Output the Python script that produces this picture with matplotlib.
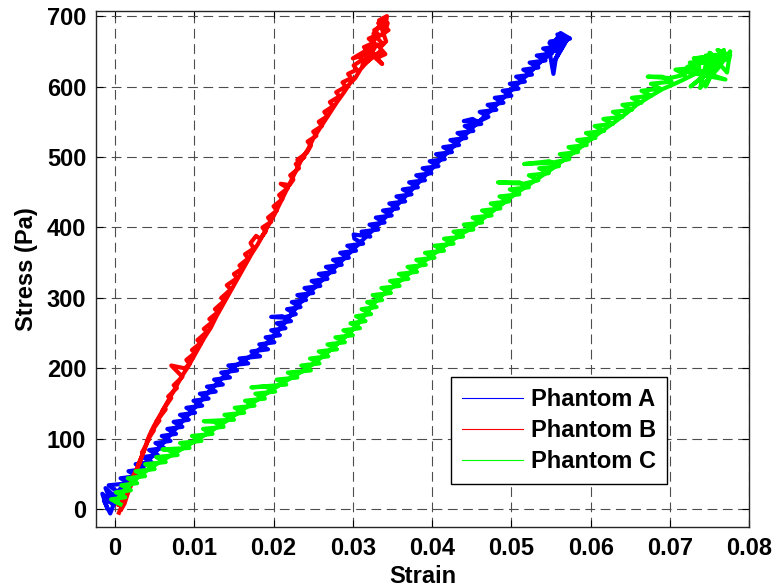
import matplotlib
matplotlib.use("Agg")
import matplotlib.pyplot as plt

plt.rcParams['font.family'] = ['Liberation Sans', 'DejaVu Sans']
plt.rcParams['font.weight'] = 'bold'
plt.rcParams['lines.scale_dashes'] = False

# === Phantom A (blue) ===
strain_a = [-0.0010, -0.0016, -0.0004, -0.0012, 0.0000, -0.0014, -0.0006, 0.0004, -0.0008,
            0.0018, 0.0007, 0.0028, 0.0017, 0.0037, 0.0026, 0.0046, 0.0035, 0.0054, 0.0043,
            0.0062, 0.0051, 0.0070, 0.0059, 0.0077, 0.0066, 0.0085, 0.0074, 0.0093, 0.0082,
            0.0101, 0.0090, 0.0110, 0.0099, 0.0118, 0.0107, 0.0127, 0.0116, 0.0136, 0.0125,
            0.0145, 0.0134, 0.0154, 0.0143, 0.0168, 0.0157, 0.0183, 0.0172, 0.0193, 0.0182,
            0.0201, 0.0190, 0.0208, 0.0197, 0.0215, 0.0204, 0.0222, 0.0211, 0.0197, 0.0212,
            0.0228, 0.0217, 0.0234, 0.0223, 0.0241, 0.0230, 0.0250, 0.0239, 0.0259, 0.0248,
            0.0268, 0.0257, 0.0277, 0.0266, 0.0286, 0.0275, 0.0295, 0.0284, 0.0304, 0.0293,
            0.0313, 0.0302, 0.0301, 0.0315, 0.0322, 0.0311, 0.0332, 0.0321, 0.0340, 0.0329,
            0.0349, 0.0338, 0.0357, 0.0346, 0.0366, 0.0355, 0.0374, 0.0363, 0.0382, 0.0371,
            0.0391, 0.0380, 0.0399, 0.0388, 0.0408, 0.0397, 0.0416, 0.0405, 0.0425, 0.0414,
            0.0434, 0.0423, 0.0443, 0.0432, 0.0452, 0.0441, 0.0462, 0.0451, 0.0440, 0.0458,
            0.0471, 0.0460, 0.0481, 0.0470, 0.0490, 0.0479, 0.0500, 0.0489, 0.0509, 0.0498,
            0.0517, 0.0506, 0.0526, 0.0515, 0.0534, 0.0523, 0.0543, 0.0532, 0.0551, 0.0540,
            0.0560, 0.0549, 0.0570, 0.0558, 0.0574, 0.0562, 0.0548, 0.0553, 0.0556, 0.0566,
            0.0552, 0.0568, 0.0545, 0.0560, 0.0538, 0.0572, 0.0556, 0.0548,
            0.0560, 0.0543, 0.0527, 0.0510, 0.0492, 0.0474, 0.0455, 0.0437, 0.0419, 0.0402,
            0.0385, 0.0368, 0.0351, 0.0334, 0.0316, 0.0298, 0.0280, 0.0262, 0.0244, 0.0230,
            0.0218, 0.0205, 0.0192, 0.0172, 0.0150, 0.0135, 0.0118, 0.0102, 0.0086, 0.0070,
            0.0055, 0.0040, 0.0022, 0.0004, -0.0010]
stress_a = [2, 22, 8, 30, 18, 12, -6, 24, 34,
            37, 44, 47, 54, 57, 64, 67, 74, 77, 84,
            87, 94, 97, 104, 107, 114, 117, 124, 127, 134,
            137, 144, 147, 154, 157, 164, 167, 174, 177, 184,
            187, 194, 197, 204, 207, 214, 217, 224, 227, 234,
            237, 244, 247, 254, 257, 264, 267, 274, 273, 272,
            277, 284, 287, 294, 297, 304, 307, 314, 317, 324,
            327, 334, 337, 344, 347, 354, 357, 364, 367, 374,
            377, 384, 390, 388, 387, 394, 397, 404, 407, 414,
            417, 424, 427, 434, 437, 444, 447, 454, 457, 464,
            467, 474, 477, 484, 487, 494, 497, 504, 507, 514,
            517, 524, 527, 534, 537, 544, 547, 554, 551, 550,
            557, 564, 567, 574, 577, 584, 587, 594, 597, 604,
            607, 614, 617, 624, 627, 634, 637, 644, 647, 654,
            657, 664, 667, 674, 668, 676, 650, 618, 640, 660,
            632, 662, 645, 672, 636, 668, 650, 662,
            662, 642, 624, 606, 586, 566, 546, 526, 506, 486,
            466, 446, 426, 406, 386, 366, 346, 326, 306, 288,
            270, 252, 236, 218, 202, 186, 166, 146, 126, 106,
            86, 66, 46, 26, 10]

# === Phantom B (red) ===
strain_b = [0.0005, 0.0011, 0.0004, 0.0015, 0.0010, 0.0020, 0.0017, 0.0026, 0.0023, 0.0032,
            0.0029, 0.0037, 0.0034, 0.0043, 0.0040, 0.0049, 0.0046, 0.0056, 0.0052, 0.0064,
            0.0060, 0.0071, 0.0067, 0.0078, 0.0074, 0.0085, 0.0071, 0.0088, 0.0094, 0.0090,
            0.0101, 0.0097, 0.0108, 0.0104, 0.0116, 0.0112, 0.0123, 0.0119, 0.0130, 0.0126,
            0.0138, 0.0134, 0.0146, 0.0141, 0.0154, 0.0150, 0.0161, 0.0157, 0.0168, 0.0164,
            0.0175, 0.0171, 0.0178, 0.0183, 0.0190, 0.0186, 0.0197, 0.0193, 0.0204, 0.0200,
            0.0211, 0.0207, 0.0218, 0.0209, 0.0220, 0.0225, 0.0221, 0.0232, 0.0228, 0.0239,
            0.0230, 0.0242, 0.0247, 0.0243, 0.0254, 0.0250, 0.0261, 0.0257, 0.0268, 0.0264,
            0.0275, 0.0271, 0.0283, 0.0279, 0.0291, 0.0287, 0.0298, 0.0294, 0.0305, 0.0301,
            0.0312, 0.0308, 0.0319, 0.0314, 0.0326, 0.0320, 0.0332, 0.0327, 0.0338, 0.0333,
            0.0343, 0.0340, 0.0344, 0.0336, 0.0342, 0.0334, 0.0341, 0.0329, 0.0337, 0.0325,
            0.0300, 0.0330, 0.0318, 0.0335, 0.0312, 0.0328, 0.0345, 0.0332, 0.0341, 0.0326,
            0.0338, 0.0320,
            0.0322, 0.0310, 0.0303, 0.0296, 0.0289, 0.0280, 0.0273, 0.0265,
            0.0258, 0.0250, 0.0244, 0.0236, 0.0229, 0.0222, 0.0215, 0.0208, 0.0201, 0.0193,
            0.0187, 0.0180, 0.0172, 0.0165, 0.0158, 0.0150, 0.0143, 0.0136, 0.0128, 0.0121,
            0.0113, 0.0106, 0.0099, 0.0092, 0.0085, 0.0078, 0.0070, 0.0063, 0.0056, 0.0049,
            0.0043, 0.0039, 0.0034, 0.0030, 0.0025, 0.0021, 0.0016, 0.0012, 0.0008]
stress_b = [-5, 12, 6, 25, 18, 38, 32, 52, 47, 68,
            62, 84, 80, 100, 96, 112, 110, 126, 124, 142,
            140, 158, 160, 172, 176, 188, 204, 200, 206, 212,
            222, 226, 236, 240, 252, 256, 266, 270, 280, 284,
            296, 300, 312, 318, 328, 334, 342, 346, 356, 362,
            370, 378, 388, 384, 394, 400, 408, 414, 424, 430,
            440, 446, 456, 462, 460, 468, 474, 484, 490, 500,
            496, 506, 516, 522, 530, 536, 544, 550, 558, 564,
            572, 578, 586, 592, 600, 606, 612, 618, 624, 630,
            638, 642, 650, 656, 662, 668, 674, 680, 688, 694,
            700, 676, 690, 684, 664, 655, 646, 640, 632, 648,
            640, 660, 636, 650, 630, 668, 680, 690, 695, 675,
            660, 655,
            640, 625, 612, 604, 592, 578, 566, 552,
            540, 526, 512, 498, 482, 466, 450, 434, 418, 402,
            390, 376, 362, 348, 334, 318, 304, 290, 274, 258,
            244, 230, 216, 202, 190, 176, 160, 146, 132, 118,
            104, 90, 76, 64, 50, 36, 22, 8, 0]

# === Phantom C (green) ===
strain_c = [0.0007, -0.0005, 0.0013, 0.0001, 0.0020, 0.0008, 0.0028, 0.0016, 0.0038, 0.0026,
            0.0050, 0.0038, 0.0064, 0.0052, 0.0079, 0.0067, 0.0060, 0.0094, 0.0082, 0.0109,
            0.0097, 0.0123, 0.0111, 0.0137, 0.0125, 0.0112, 0.0150, 0.0138, 0.0163, 0.0151,
            0.0176, 0.0164, 0.0189, 0.0177, 0.0202, 0.0190, 0.0172, 0.0216, 0.0204, 0.0230,
            0.0218, 0.0247, 0.0235, 0.0258, 0.0246, 0.0269, 0.0257, 0.0280, 0.0268, 0.0290,
            0.0278, 0.0300, 0.0288, 0.0309, 0.0297, 0.0316, 0.0304, 0.0323, 0.0311, 0.0330,
            0.0318, 0.0337, 0.0325, 0.0348, 0.0336, 0.0359, 0.0347, 0.0370, 0.0358, 0.0381,
            0.0369, 0.0392, 0.0380, 0.0403, 0.0391, 0.0415, 0.0403, 0.0427, 0.0415, 0.0439,
            0.0427, 0.0452, 0.0440, 0.0463, 0.0451, 0.0475, 0.0463, 0.0486, 0.0474, 0.0497,
            0.0485, 0.0510, 0.0498, 0.0522, 0.0510, 0.0483, 0.0515, 0.0534, 0.0522, 0.0547,
            0.0535, 0.0560, 0.0548, 0.0516, 0.0552, 0.0573, 0.0561, 0.0584, 0.0572, 0.0595,
            0.0583, 0.0606, 0.0594, 0.0617, 0.0605, 0.0628, 0.0616, 0.0640, 0.0628, 0.0652,
            0.0640, 0.0664, 0.0652, 0.0676, 0.0664, 0.0688, 0.0676, 0.0702, 0.0690, 0.0672,
            0.0700, 0.0719, 0.0707, 0.0737, 0.0725, 0.0757, 0.0745, 0.0772, 0.0760, 0.0775,
            0.0745, 0.0738, 0.0760, 0.0776, 0.0772, 0.0750, 0.0765, 0.0740, 0.0726, 0.0774,
            0.0730, 0.0776, 0.0722, 0.0770, 0.0715, 0.0758, 0.0745, 0.0768,
            0.0760, 0.0732, 0.0710, 0.0690, 0.0672, 0.0658, 0.0645, 0.0632, 0.0618, 0.0606,
            0.0594, 0.0581, 0.0568, 0.0555, 0.0542, 0.0529, 0.0516, 0.0503, 0.0492, 0.0480,
            0.0468, 0.0457, 0.0445, 0.0433, 0.0421, 0.0409, 0.0397, 0.0386, 0.0375, 0.0364,
            0.0353, 0.0342, 0.0331, 0.0324, 0.0317, 0.0310, 0.0303, 0.0294, 0.0284, 0.0274,
            0.0263, 0.0252, 0.0240, 0.0224, 0.0210, 0.0196, 0.0183, 0.0170, 0.0157, 0.0144,
            0.0131, 0.0117, 0.0103, 0.0088, 0.0073, 0.0058, 0.0044, 0.0032, 0.0022, 0.0014,
            0.0006, 0.0002]
stress_c = [7, 14, 17, 24, 27, 34, 37, 44, 47, 54,
            57, 64, 67, 74, 77, 84, 85, 87, 94, 97,
            104, 107, 114, 117, 124, 125, 127, 134, 137, 144,
            147, 154, 157, 164, 167, 174, 173, 177, 184, 187,
            194, 197, 204, 207, 214, 217, 224, 227, 234, 237,
            244, 247, 254, 257, 264, 267, 274, 277, 284, 287,
            294, 297, 304, 307, 314, 317, 324, 327, 334, 337,
            344, 347, 354, 357, 364, 367, 374, 377, 384, 387,
            394, 397, 404, 407, 414, 417, 424, 427, 434, 437,
            444, 447, 454, 457, 464, 464, 462, 467, 474, 477,
            484, 487, 494, 490, 492, 497, 504, 507, 514, 517,
            524, 527, 534, 537, 544, 547, 554, 557, 564, 567,
            574, 577, 584, 587, 594, 597, 604, 607, 614, 614,
            612, 617, 624, 627, 634, 637, 644, 646, 652, 640,
            630, 598, 625, 650, 620, 648, 635, 612, 600, 645,
            640, 645, 628, 610, 622, 642, 600, 652,
            630, 618, 606, 596, 584, 574, 562, 551, 540, 530,
            520, 508, 498, 486, 476, 466, 456, 446, 436, 426,
            416, 406, 396, 388, 378, 368, 358, 348, 338, 328,
            318, 308, 298, 288, 278, 268, 258, 248, 238, 228,
            218, 208, 198, 188, 178, 168, 158, 148, 138, 128,
            118, 108, 98, 88, 78, 68, 58, 48, 38, 28,
            18, 10]

labels = ["Phantom A", "Phantom B", "Phantom C"]
x_ticks = [0, 0.01, 0.02, 0.03, 0.04, 0.05, 0.06, 0.07, 0.08]
x_tick_labels = ["0", "0.01", "0.02", "0.03", "0.04", "0.05", "0.06", "0.07", "0.08"]
y_ticks = [0, 100, 200, 300, 400, 500, 600, 700]

fig = plt.figure(figsize=(7.74, 5.88), dpi=100)
ax = fig.add_axes([0.124, 0.104, 0.844, 0.877])

series = [(strain_a, stress_a, (0, 0, 1)),
          (strain_b, stress_b, (1, 0, 0)),
          (strain_c, stress_c, (0, 1, 0))]
handles = []
for (xs, ys, col), lab in zip(series, labels):
    # thick core to mimic the dense bundle of cycles, thin line for the legend
    ax.plot(xs, ys, color=col, lw=3.0, solid_joinstyle='round')
    h, = ax.plot(xs, ys, color=col, lw=0.8, label=lab)
    handles.append(h)

ax.set_xlim(-0.0024, 0.08)
ax.set_ylim(-25, 707)
ax.set_xticks(x_ticks)
ax.set_xticklabels(x_tick_labels)
ax.set_yticks(y_ticks)
ax.tick_params(direction='in', length=5, width=0.8, top=True, right=True,
               labelsize=17, pad=7)
for lab in ax.get_xticklabels() + ax.get_yticklabels():
    lab.set_fontweight('bold')

ax.grid(True, color='0.3', linestyle=(0, (7, 4)), linewidth=0.8)
for sp in ax.spines.values():
    sp.set_linewidth(1.0)
    sp.set_color('0.15')

ax.set_xlabel("Strain", fontsize=17, fontweight='bold', labelpad=4)
ax.set_ylabel("Stress (Pa)", fontsize=17, fontweight='bold', labelpad=6)

leg = ax.legend(handles=handles, loc='lower right', bbox_to_anchor=(0.874, 0.083),
                prop={'weight': 'bold', 'size': 17}, fancybox=False, framealpha=1,
                edgecolor='black', handlelength=2.6, handletextpad=0.35,
                labelspacing=0.35, borderpad=0.45, borderaxespad=0)
leg.get_frame().set_linewidth(1.0)

fig.savefig("out.png", dpi=100)
